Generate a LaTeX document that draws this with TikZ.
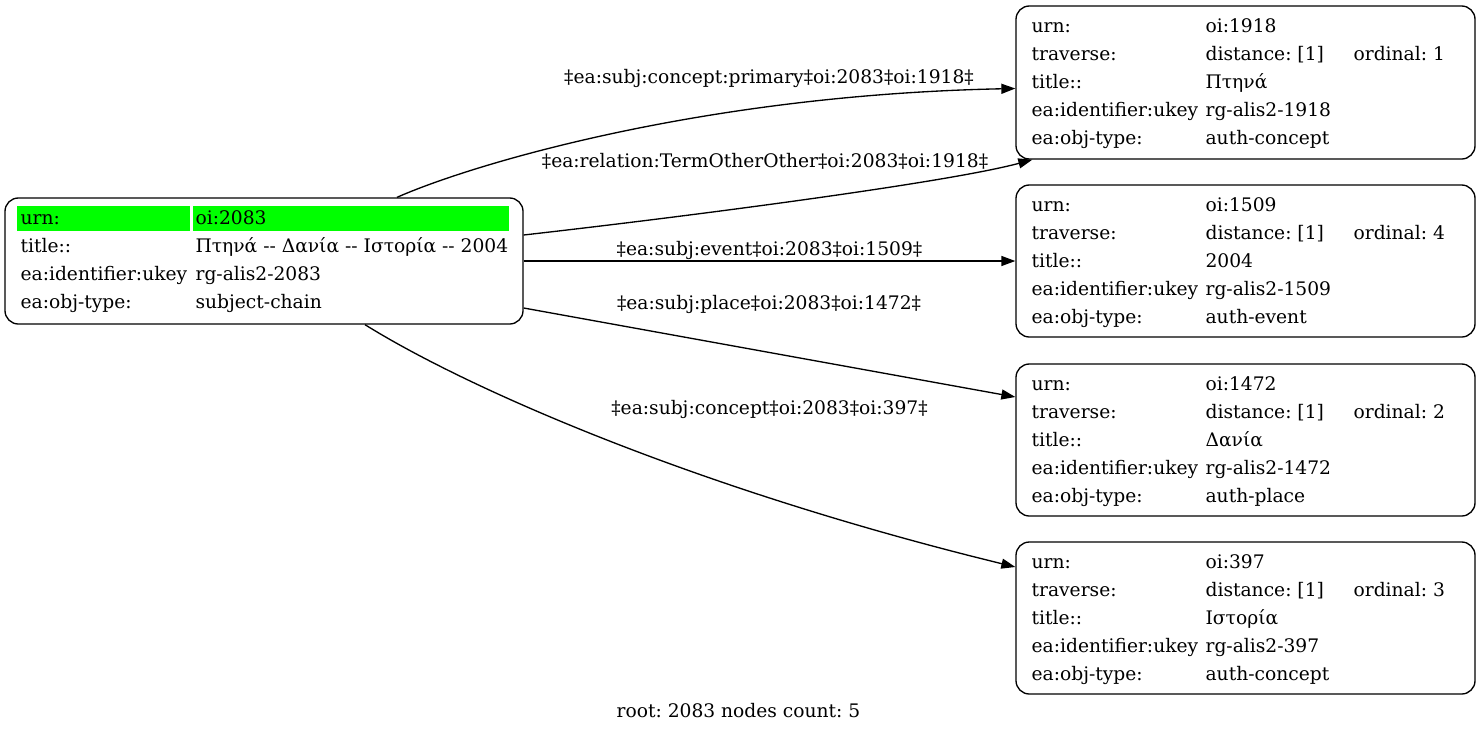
\documentclass[tikz,border=0pt]{standalone}
\usepackage{fontspec}
\setmainfont{DejaVu Serif}
\usetikzlibrary{arrows.meta,calc}
\definecolor{hlgreen}{HTML}{00FF00}
\begin{document}
\frenchspacing
\begin{tikzpicture}[x=0.75pt,y=-0.75pt,
  rec/.style={draw=black,line width=1pt,rounded corners=10pt,inner sep=0,minimum width=#1},
  txt/.style={anchor=base west,inner sep=0,font=\fontsize{14}{16}\selectfont},
  lab/.style={anchor=center,inner sep=0,font=\fontsize{14}{16}\selectfont},
  edge/.style={draw=black,line width=1pt,-{Triangle[length=10.5pt,width=7.5pt]}}]
\useasboundingbox (0,0) rectangle (1480,732);

% root record
\node[rec=388.5pt,minimum height=94.5pt] (L) at (264,261) {};
\fill[hlgreen] ($(L.north west)+(13,9)$) rectangle ($(L.north west)+(186,34)$);
\fill[hlgreen] ($(L.north west)+(189,9)$) rectangle ($(L.north west)+(505,34)$);
\node[txt] (L-k1) at ($(L.north west)+(16,27.5)$) {urn:};
\node[txt] (L-v1) at ($(L.north west)+(191,27.5)$) {oi:2083};
\node[txt] (L-k2) at ($(L.north west)+(16,55.5)$) {title::};
\node[txt] (L-v2) at ($(L.north west)+(191,55.5)$) {Πτηνά -\kern0pt- Δανία -\kern0pt- Ιστορία -\kern0pt- 2004};
\node[txt] (L-k3) at ($(L.north west)+(16,83.5)$) {ea:identifier:ukey};
\node[txt] (L-v3) at ($(L.north west)+(191,83.5)$) {rg-alis2-2083};
\node[txt] (L-k4) at ($(L.north west)+(16,111.5)$) {ea:obj-type:};
\node[txt] (L-v4) at ($(L.north west)+(191,111.5)$) {subject-chain};

% target records
\node[rec=344.25pt,minimum height=114.75pt] (R1) at (1245.5,82.5) {};
\node[rec=344.25pt,minimum height=114pt] (R2) at (1245.5,261) {};
\node[rec=344.25pt,minimum height=114pt] (R3) at (1245.5,440) {};
\node[rec=344.25pt,minimum height=114pt] (R4) at (1245.5,618) {};

\foreach \n/\a/\b/\c/\e in {R1/1918/1/Πτηνά/auth-concept,
                           R2/1509/4/2004/auth-event,
                           R3/1472/2/Δανία/auth-place,
                           R4/397/3/Ιστορία/auth-concept}{
  \node[txt] (\n-k1) at ($(\n.north west)+(16,27)$) {urn:};
  \node[txt] (\n-v1) at ($(\n.north west)+(190,27)$) {oi:\a};
  \node[txt] (\n-k2) at ($(\n.north west)+(16,55)$) {traverse:};
  \node[txt] (\n-v2) at ($(\n.north west)+(190,55)$) {distance: [1]};
  \node[txt] (\n-o2) at ($(\n.north west)+(338,55)$) {ordinal: \b};
  \node[txt] (\n-k3) at ($(\n.north west)+(16,83)$) {title::};
  \node[txt] (\n-v3) at ($(\n.north west)+(190,83)$) {\c};
  \node[txt] (\n-k4) at ($(\n.north west)+(16,111)$) {ea:identifier:ukey};
  \node[txt] (\n-v4) at ($(\n.north west)+(190,111)$) {rg-alis2-\a};
  \node[txt] (\n-k5) at ($(\n.north west)+(16,139)$) {ea:obj-type:};
  \node[txt] (\n-v5) at ($(\n.north west)+(190,139)$) {\e};
}

% edges
\draw[edge] ($(L.north)+(133,0)$) .. controls (470,165) and (700,95) .. ($(R1.west)+(0,6)$);
\draw[edge] ($(L.east)+(0,-26)$) .. controls (700,215) and (950,182) .. ($(R1.south west)+(17,0)$);
\draw[edge] (L.east) -- (R2.west);
\draw[edge] ($(L.east)+(0,47)$) -- ($(R3.west)+(0,-43)$);
\draw[edge] ($(L.south)+(101,0)$) .. controls (470,390) and (700,490) .. ($(R4.west)+(0,-51)$);

% edge labels
\node[lab] (lab1) at (769,78) {‡ea:subj:concept:primary‡oi:2083‡oi:1918‡};
\node[lab] (lab2) at (765,161) {‡ea:relation:TermOtherOther‡oi:2083‡oi:1918‡};
\node[lab] (lab3) at (769.5,250) {‡ea:subj:event‡oi:2083‡oi:1509‡};
\node[lab] (lab4) at (769,304) {‡ea:subj:place‡oi:2083‡oi:1472‡};
\node[lab] (lab5) at (769.5,409) {‡ea:subj:concept‡oi:2083‡oi:397‡};

\node[lab] (root) at (738.5,711) {root: 2083 nodes count: 5};
\end{tikzpicture}
\end{document}
